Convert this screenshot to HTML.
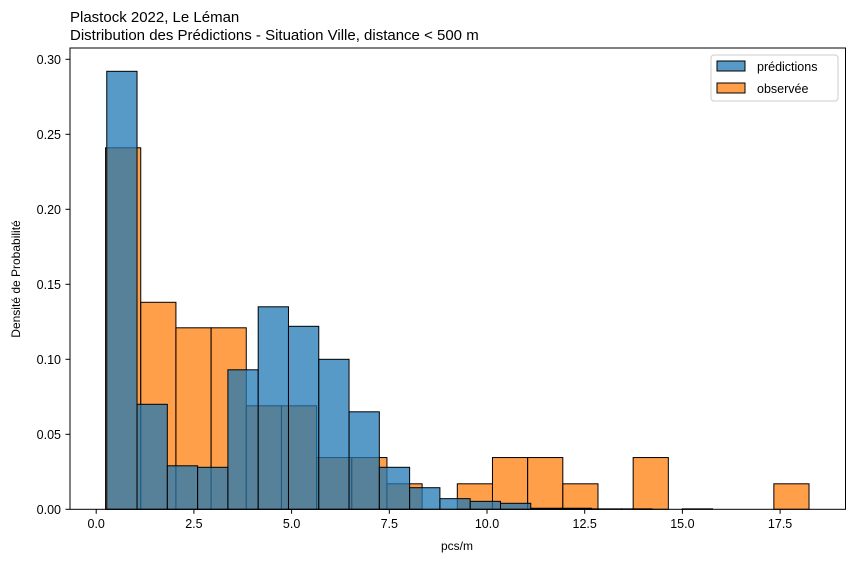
<!DOCTYPE html>
<html><head><meta charset="utf-8"><style>
body{margin:0;background:#fff}
svg text{font-family:"Liberation Sans","DejaVu Sans",sans-serif;fill:#000}
</style></head><body>
<svg width="855" height="563" xmlns="http://www.w3.org/2000/svg">
<text x="70" y="22" font-size="15">Plastock 2022, Le Léman</text>
<text x="70" y="40" font-size="15">Distribution des Prédictions - Situation Ville, distance &lt; 500 m</text>
<g id="bars"></g>
<g id="axes"></g>
<rect x="70" y="48" width="775.5" height="461.3" fill="none" stroke="#000" stroke-width="1"/>
<text x="457" y="550" font-size="12" text-anchor="middle">pcs/m</text>
<text transform="translate(20,279) rotate(-90)" font-size="12" text-anchor="middle">Densité de Probabilité</text>
<g>
<rect x="711" y="55" width="127" height="46" rx="3" fill="#fff" fill-opacity="0.8" stroke="#ccc"/>
<rect x="717" y="61" width="28" height="10" fill="#1f77b4" fill-opacity="0.75" stroke="#000"/>
<text x="757" y="71" font-size="12.5">prédictions</text>
<rect x="717" y="83" width="28" height="10" fill="#ff7f0e" fill-opacity="0.75" stroke="#000"/>
<text x="757" y="93" font-size="12.5">observée</text>
</g>
</svg>
<script>
const obsStart = 0.24, obsWidth = 0.9;
const obsValues = [0.241,0.138,0.121,0.121,0.069,0.069,0.0345,0.0345,0.017,0,0.017,0.0345,0.0345,0.017,0,0.0345,0,0,0,0.017];
const predStart = 0.27, predWidth = 0.775;
const predValues = [0.292,0.070,0.029,0.028,0.093,0.135,0.122,0.100,0.065,0.028,0.0144,0.0071,0.0053,0.004,0.0007,0.0007,0.0003,0.0003,0,0.0003];
const xTicks = [0,2.5,5,7.5,10,12.5,15,17.5];
const xTickLabels = ["0.0","2.5","5.0","7.5","10.0","12.5","15.0","17.5"];
const yTicks = [0,0.05,0.10,0.15,0.20,0.25,0.30];
const yTickLabels = ["0.00","0.05","0.10","0.15","0.20","0.25","0.30"];

const NS="http://www.w3.org/2000/svg";
const X=v=>96.2+v*39.08;
const Y=v=>509.3-v*1500;
const bars=document.getElementById('bars'), axes=document.getElementById('axes');
function drawSeries(start,w,vals,color,name){
  vals.forEach((v,i)=>{
    if(v<=0) return;
    const r=document.createElementNS(NS,'rect');
    const x0=X(start+i*w), x1=X(start+(i+1)*w);
    r.setAttribute('x',x0);r.setAttribute('width',x1-x0);
    r.setAttribute('y',Y(v));r.setAttribute('height',Y(0)-Y(v));
    r.setAttribute('fill',color);r.setAttribute('fill-opacity','0.75');
    r.setAttribute('stroke','#000');r.setAttribute('stroke-width','1');
    
    
    bars.appendChild(r);
  });
}
drawSeries(obsStart,obsWidth,obsValues,'#ff7f0e','observed');
drawSeries(predStart,predWidth,predValues,'#1f77b4','predictions');
xTicks.forEach((t,i)=>{
  const l=document.createElementNS(NS,'line');
  l.setAttribute('x1',X(t));l.setAttribute('x2',X(t));l.setAttribute('y1',509.3);l.setAttribute('y2',513.8);l.setAttribute('stroke','#000');
  
  
  axes.appendChild(l);
  const tx=document.createElementNS(NS,'text');
  tx.setAttribute('x',X(t));tx.setAttribute('y',528);tx.setAttribute('font-size','12.5');tx.setAttribute('text-anchor','middle');
  tx.textContent=xTickLabels[i];
  
  
  axes.appendChild(tx);
});
yTicks.forEach((t,i)=>{
  const l=document.createElementNS(NS,'line');
  l.setAttribute('x1',65.5);l.setAttribute('x2',70);l.setAttribute('y1',Y(t));l.setAttribute('y2',Y(t));l.setAttribute('stroke','#000');
  
  
  axes.appendChild(l);
  const tx=document.createElementNS(NS,'text');
  tx.setAttribute('x',61);tx.setAttribute('y',Y(t)+4.5);tx.setAttribute('font-size','12.5');tx.setAttribute('text-anchor','end');
  tx.textContent=yTickLabels[i];
  
  
  axes.appendChild(tx);
});
</script>
</body></html>
